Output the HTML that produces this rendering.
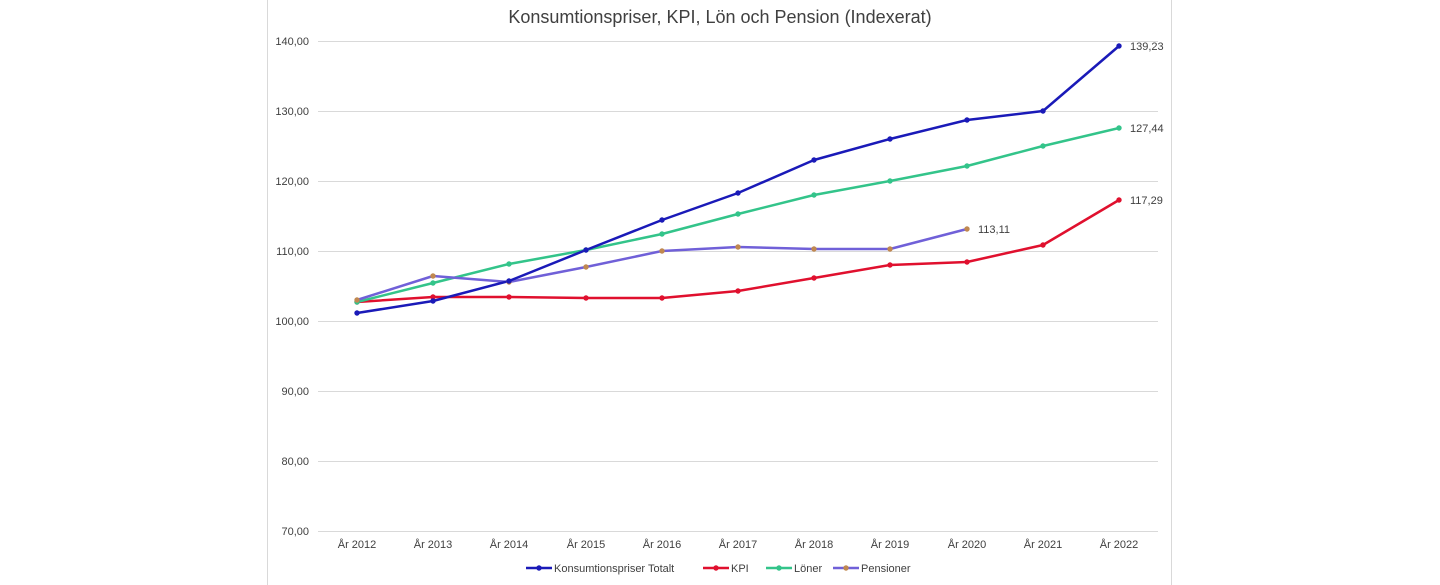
<!DOCTYPE html>
<html><head><meta charset="utf-8"><style>
body{margin:0;background:#fff;}
svg{display:block;font-family:"Liberation Sans",sans-serif;}
</style></head><body>
<svg width="1440" height="585" viewBox="0 0 1440 585">
<rect width="1440" height="585" fill="#fff"/>
<line x1="267.5" y1="0" x2="267.5" y2="585" stroke="#d9d9d9"/>
<line x1="1171.5" y1="0" x2="1171.5" y2="585" stroke="#d9d9d9"/>
<text x="720" y="23" text-anchor="middle" font-size="18" fill="#404040">Konsumtionspriser, KPI, Lön och Pension (Indexerat)</text>
<g stroke="#d9d9d9" stroke-width="1">
<line x1="318" y1="41.5" x2="1158" y2="41.5"/><line x1="318" y1="111.5" x2="1158" y2="111.5"/>
<line x1="318" y1="181.5" x2="1158" y2="181.5"/><line x1="318" y1="251.5" x2="1158" y2="251.5"/>
<line x1="318" y1="321.5" x2="1158" y2="321.5"/><line x1="318" y1="391.5" x2="1158" y2="391.5"/>
<line x1="318" y1="461.5" x2="1158" y2="461.5"/><line x1="318" y1="531.5" x2="1158" y2="531.5"/>
</g>
<g font-size="11" fill="#404040" text-anchor="end">
<text x="309" y="45">140,00</text><text x="309" y="115">130,00</text><text x="309" y="185">120,00</text>
<text x="309" y="255">110,00</text><text x="309" y="325">100,00</text><text x="309" y="395">90,00</text>
<text x="309" y="465">80,00</text><text x="309" y="535">70,00</text>
</g>
<g font-size="11" fill="#404040" text-anchor="middle">
<text x="357" y="548">År 2012</text><text x="433" y="548">År 2013</text><text x="509" y="548">År 2014</text>
<text x="586" y="548">År 2015</text><text x="662" y="548">År 2016</text><text x="738" y="548">År 2017</text>
<text x="814" y="548">År 2018</text><text x="890" y="548">År 2019</text><text x="967" y="548">År 2020</text>
<text x="1043" y="548">År 2021</text><text x="1119" y="548">År 2022</text>
</g>
<g fill="none" stroke-width="2.5" stroke-linejoin="round">
<polyline stroke="#e0102e" points="357,302 433,297 509,297 586,298 662,298 738,291 814,278 890,265 967,262 1043,245 1119,200"/>
<polyline stroke="#33c48a" points="357,302 433,283 509,264 586,250 662,234 738,214 814,195 890,181 967,166 1043,146 1119,128"/>
<polyline stroke="#7060d8" points="357,300 433,276 509,282 586,267 662,251 738,247 814,249 890,249 967,229"/>
<polyline stroke="#1a1ab8" points="357,313 433,301 509,281 586,250 662,220 738,193 814,160 890,139 967,120 1043,111 1119,46"/>
</g>
<g fill="#e0102e"><circle cx="357" cy="302" r="2.7"/><circle cx="433" cy="297" r="2.7"/><circle cx="509" cy="297" r="2.7"/><circle cx="586" cy="298" r="2.7"/><circle cx="662" cy="298" r="2.7"/><circle cx="738" cy="291" r="2.7"/><circle cx="814" cy="278" r="2.7"/><circle cx="890" cy="265" r="2.7"/><circle cx="967" cy="262" r="2.7"/><circle cx="1043" cy="245" r="2.7"/><circle cx="1119" cy="200" r="2.7"/></g>
<g fill="#33c48a"><circle cx="357" cy="302" r="2.7"/><circle cx="433" cy="283" r="2.7"/><circle cx="509" cy="264" r="2.7"/><circle cx="586" cy="250" r="2.7"/><circle cx="662" cy="234" r="2.7"/><circle cx="738" cy="214" r="2.7"/><circle cx="814" cy="195" r="2.7"/><circle cx="890" cy="181" r="2.7"/><circle cx="967" cy="166" r="2.7"/><circle cx="1043" cy="146" r="2.7"/><circle cx="1119" cy="128" r="2.7"/></g>
<g fill="#c08850"><circle cx="357" cy="300" r="2.7"/><circle cx="433" cy="276" r="2.7"/><circle cx="509" cy="282" r="2.7"/><circle cx="586" cy="267" r="2.7"/><circle cx="662" cy="251" r="2.7"/><circle cx="738" cy="247" r="2.7"/><circle cx="814" cy="249" r="2.7"/><circle cx="890" cy="249" r="2.7"/><circle cx="967" cy="229" r="2.7"/></g>
<g fill="#1a1ab8"><circle cx="357" cy="313" r="2.7"/><circle cx="433" cy="301" r="2.7"/><circle cx="509" cy="281" r="2.7"/><circle cx="586" cy="250" r="2.7"/><circle cx="662" cy="220" r="2.7"/><circle cx="738" cy="193" r="2.7"/><circle cx="814" cy="160" r="2.7"/><circle cx="890" cy="139" r="2.7"/><circle cx="967" cy="120" r="2.7"/><circle cx="1043" cy="111" r="2.7"/><circle cx="1119" cy="46" r="2.7"/></g>
<g font-size="11" fill="#404040">
<text x="1130" y="50">139,23</text><text x="1130" y="132">127,44</text><text x="1130" y="204">117,29</text><text x="978" y="233">113,11</text>
</g>
<g font-size="11" fill="#404040">
<line x1="526" y1="568" x2="552" y2="568" stroke="#1a1ab8" stroke-width="2.5"/><circle cx="539" cy="568" r="2.7" fill="#1a1ab8"/>
<text x="554" y="572">Konsumtionspriser Totalt</text>
<line x1="703" y1="568" x2="729" y2="568" stroke="#e0102e" stroke-width="2.5"/><circle cx="716" cy="568" r="2.7" fill="#e0102e"/>
<text x="731" y="572">KPI</text>
<line x1="766" y1="568" x2="792" y2="568" stroke="#33c48a" stroke-width="2.5"/><circle cx="779" cy="568" r="2.7" fill="#33c48a"/>
<text x="794" y="572">Löner</text>
<line x1="833" y1="568" x2="859" y2="568" stroke="#7060d8" stroke-width="2.5"/><circle cx="846" cy="568" r="2.7" fill="#c08850"/>
<text x="861" y="572">Pensioner</text>
</g>
</svg>
</body></html>
